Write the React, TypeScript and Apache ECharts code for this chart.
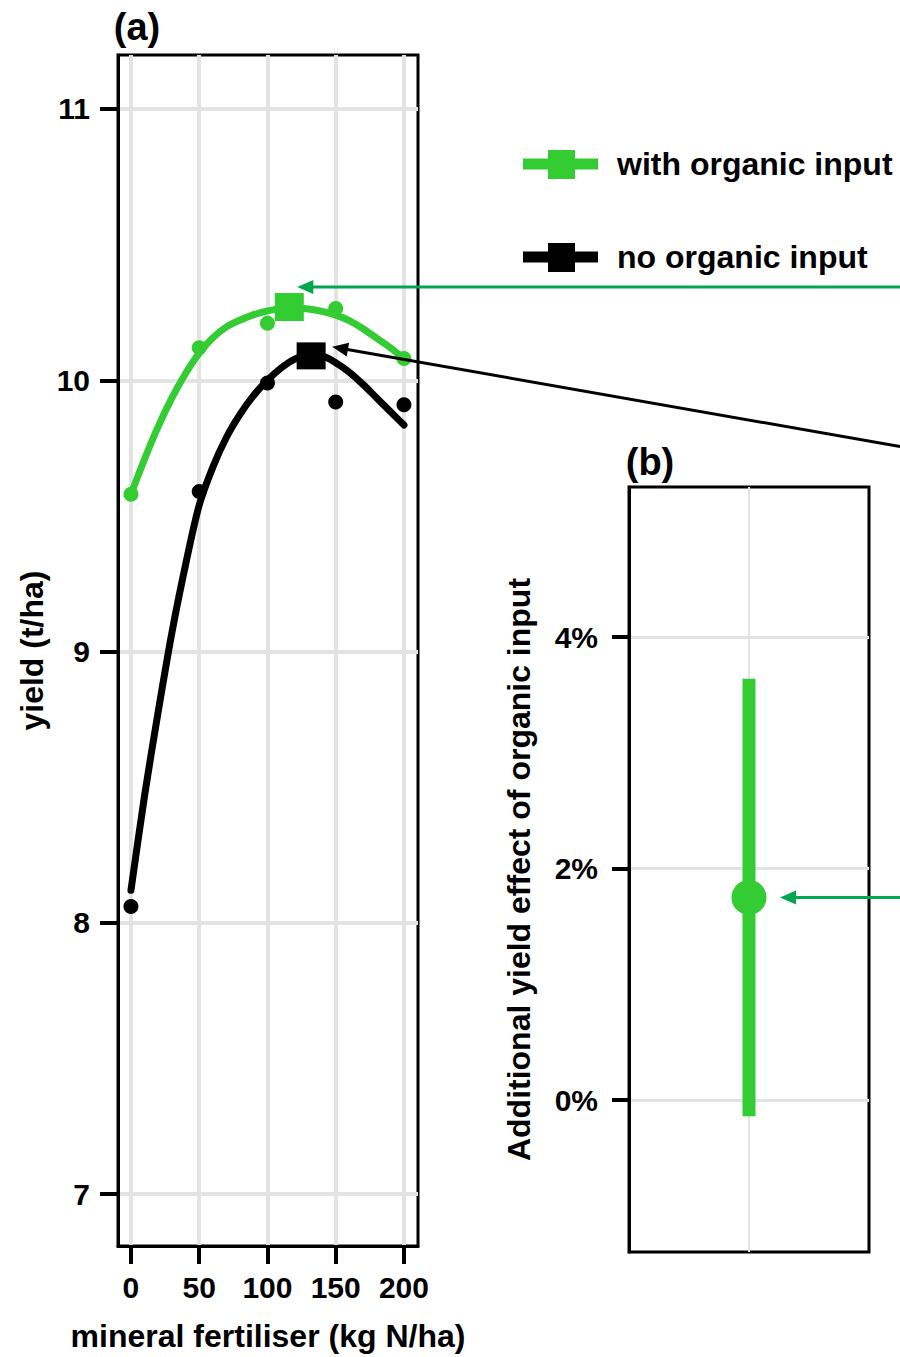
import React, { useEffect, useRef } from "react";
import * as echarts from "echarts";

const GREEN = "#33CC33";
const ARROW_GREEN = "#00A650";
const FONT = "'Liberation Sans', Arial, sans-serif";

// axis ticks
const fertiliserTicks = [0, 50, 100, 150, 200];
const yieldTicks = [7, 8, 9, 10, 11];
const effectTicks = [0, 2, 4];

// observed means (panel a)
const obsN = [0, 50, 100, 150, 200];
const withOrganicObs = [9.58, 10.12, 10.21, 10.265, 10.08];
const noOrganicObs = [8.06, 9.59, 9.99, 9.92, 9.91];

// fitted response curves (every 10 kg N/ha)
const fitN = [0, 10, 20, 30, 40, 50, 60, 70, 80, 90, 100, 110, 120, 130, 140, 150, 160, 170, 180, 190, 200];
const withFitYield = [
  9.58, 9.71, 9.83, 9.935, 10.025, 10.1, 10.157, 10.197, 10.222, 10.242, 10.256,
  10.264, 10.266, 10.263, 10.254, 10.24, 10.22, 10.19, 10.155, 10.12, 10.08,
];
const noFitYield = [
  8.12, 8.47, 8.78, 9.07, 9.32, 9.54, 9.68, 9.79, 9.875, 9.945, 10.0,
  10.045, 10.078, 10.093, 10.09, 10.065, 10.03, 9.985, 9.935, 9.885, 9.835,
];

// economic optimum points
const withOptimum = [116, 10.27];
const noOptimum = [132, 10.09];

// panel b: additional yield effect (%)
const effectMean = 1.75;
const effectLow = -0.14;
const effectHigh = 3.64;

const legendItems = [
  { name: "with organic input", color: GREEN },
  { name: "no organic input", color: "#000000" },
];

const zip = (a: number[], b: number[]) => a.map((v, i) => [v, b[i]]);

function arrow(tip: number[], from: number[], color: string) {
  const dx = from[0] - tip[0];
  const dy = from[1] - tip[1];
  const len = Math.sqrt(dx * dx + dy * dy);
  const ux = dx / len;
  const uy = dy / len;
  const nx = -uy;
  const ny = ux;
  const L = 16;
  const W = 7;
  return [
    {
      type: "line",
      shape: { x1: tip[0] + ux * (L - 2), y1: tip[1] + uy * (L - 2), x2: from[0], y2: from[1] },
      style: { stroke: color, lineWidth: 3 },
      z: 100,
    },
    {
      type: "polygon",
      shape: {
        points: [
          [tip[0], tip[1]],
          [tip[0] + ux * L + nx * W, tip[1] + uy * L + ny * W],
          [tip[0] + ux * L - nx * W, tip[1] + uy * L - ny * W],
        ],
      },
      style: { fill: color },
      z: 100,
    },
  ];
}

export default function App() {
  const ref = useRef<HTMLDivElement>(null);
  useEffect(() => {
    if (!ref.current) return;
    const chart = echarts.init(ref.current, null, { renderer: "svg" });
    const tickLabel = { fontSize: 30, fontWeight: "bold", color: "#000", fontFamily: FONT };
    const nameStyle = { fontSize: 32, fontWeight: "bold", color: "#000", fontFamily: FONT };
    const option: any = {
      animation: false,
      backgroundColor: "#ffffff",
      grid: [
        { left: 118, top: 55, width: 300, height: 1194, show: true, borderColor: "#000", borderWidth: 3, backgroundColor: "transparent" },
        { left: 629, top: 487, width: 240, height: 765, show: true, borderColor: "#000", borderWidth: 3, backgroundColor: "transparent" },
      ],
      xAxis: [
        {
          type: "value",
          gridIndex: 0,
          min: -9.5,
          max: 210.3,
          axisLine: { show: true, onZero: false, lineStyle: { color: "#000", width: 3 } },
          axisTick: { show: true, length: 18, customValues: fertiliserTicks, lineStyle: { color: "#000", width: 4 } },
          axisLabel: { ...tickLabel, customValues: fertiliserTicks, margin: 26 },
          splitLine: { show: true, lineStyle: { color: "#e3e3e3", width: 4 } },
          name: "mineral fertiliser (kg N/ha)",
          nameLocation: "middle",
          nameGap: 74,
          nameTextStyle: nameStyle,
        },
        {
          type: "value",
          gridIndex: 1,
          min: -1,
          max: 1,
          axisLine: { show: false },
          axisTick: { show: false, customValues: [0] },
          axisLabel: { show: false, customValues: [0] },
          splitLine: { show: true, lineStyle: { color: "#e3e3e3", width: 2 } },
        },
      ],
      yAxis: [
        {
          type: "value",
          gridIndex: 0,
          min: 6.809,
          max: 11.199,
          axisLine: { show: true, onZero: false, lineStyle: { color: "#000", width: 3 } },
          axisTick: { show: true, length: 18, customValues: yieldTicks, lineStyle: { color: "#000", width: 4 } },
          axisLabel: { ...tickLabel, customValues: yieldTicks, margin: 28 },
          splitLine: { show: true, lineStyle: { color: "#e3e3e3", width: 4 } },
          name: "yield (t/ha)",
          nameLocation: "middle",
          nameRotate: 90,
          nameGap: 70,
          nameTextStyle: nameStyle,
        },
        {
          type: "value",
          gridIndex: 1,
          min: -1.313,
          max: 5.296,
          axisLine: { show: true, onZero: false, lineStyle: { color: "#000", width: 3 } },
          axisTick: { show: true, length: 17, customValues: effectTicks, lineStyle: { color: "#000", width: 4 } },
          axisLabel: { ...tickLabel, customValues: effectTicks, margin: 31, formatter: "{value}%" },
          splitLine: { show: true, lineStyle: { color: "#e3e3e3", width: 3 } },
          name: "Additional yield effect of organic input",
          nameLocation: "middle",
          nameRotate: 90,
          nameGap: 94,
          nameTextStyle: nameStyle,
        },
      ],
      series: [
        {
          name: "with organic input fit",
          type: "line",
          xAxisIndex: 0,
          yAxisIndex: 0,
          data: zip(fitN, withFitYield),
          smooth: 0.3,
          symbol: "none",
          lineStyle: { color: GREEN, width: 7, cap: "round", join: "round", opacity: 1 },
          z: 3,
        },
        {
          name: "no organic input fit",
          type: "line",
          xAxisIndex: 0,
          yAxisIndex: 0,
          data: zip(fitN, noFitYield),
          smooth: 0.3,
          symbol: "none",
          lineStyle: { color: "#000", width: 7, cap: "round", join: "round", opacity: 1 },
          z: 3,
        },
        {
          name: "with organic input",
          type: "scatter",
          xAxisIndex: 0,
          yAxisIndex: 0,
          data: zip(obsN, withOrganicObs),
          symbol: "circle",
          symbolSize: 15,
          itemStyle: { color: GREEN, opacity: 1 },
          z: 4,
        },
        {
          name: "no organic input",
          type: "scatter",
          xAxisIndex: 0,
          yAxisIndex: 0,
          data: zip(obsN, noOrganicObs),
          symbol: "circle",
          symbolSize: 15,
          itemStyle: { color: "#000", opacity: 1 },
          z: 4,
        },
        {
          name: "with organic optimum",
          type: "scatter",
          xAxisIndex: 0,
          yAxisIndex: 0,
          data: [withOptimum],
          symbol: "rect",
          symbolSize: [29, 28],
          itemStyle: { color: GREEN, opacity: 1 },
          z: 5,
        },
        {
          name: "no organic optimum",
          type: "scatter",
          xAxisIndex: 0,
          yAxisIndex: 0,
          data: [noOptimum],
          symbol: "rect",
          symbolSize: [29, 27],
          itemStyle: { color: "#000", opacity: 1 },
          z: 5,
        },
        {
          name: "effect interval",
          type: "line",
          xAxisIndex: 1,
          yAxisIndex: 1,
          data: [[0, effectLow], [0, effectHigh]],
          symbol: "none",
          lineStyle: { color: GREEN, width: 13, cap: "butt", opacity: 1 },
          z: 3,
        },
        {
          name: "effect mean",
          type: "scatter",
          xAxisIndex: 1,
          yAxisIndex: 1,
          data: [[0, effectMean]],
          symbol: "circle",
          symbolSize: 35,
          itemStyle: { color: GREEN, opacity: 1 },
          z: 4,
        },
      ],
    };
    chart.setOption(option);

    const gPix = chart.convertToPixel({ gridIndex: 0 }, withOptimum) as number[];
    const bPix = chart.convertToPixel({ gridIndex: 0 }, noOptimum) as number[];
    const ePix = chart.convertToPixel({ gridIndex: 1 }, [0, effectMean]) as number[];

    const gTip = [gPix[0] + 8, gPix[1] - 20];
    const bTip = [bPix[0] + 21, bPix[1] - 9];
    const eTip = [ePix[0] + 31, ePix[1]];

    const legendGraphics: any[] = [];
    legendItems.forEach((it, i) => {
      const y = 164 + i * 93;
      legendGraphics.push(
        { type: "line", shape: { x1: 523, y1: y, x2: 598, y2: y }, style: { stroke: it.color, lineWidth: 11 } },
        { type: "rect", shape: { x: 548, y: y - 14, width: 27, height: 29 }, style: { fill: it.color } },
        {
          type: "text",
          x: 617,
          y: y,
          style: { text: it.name, fontSize: 32, fontWeight: "bold", fill: "#000", fontFamily: FONT, textVerticalAlign: "middle", textAlign: "left" },
        }
      );
    });

    chart.setOption({
      graphic: [
        {
          type: "text",
          x: 137,
          y: 27,
          style: { text: "(a)", fontSize: 38, fontWeight: "bold", fill: "#000", fontFamily: FONT, textAlign: "center", textVerticalAlign: "middle" },
        },
        {
          type: "text",
          x: 650,
          y: 462,
          style: { text: "(b)", fontSize: 38, fontWeight: "bold", fill: "#000", fontFamily: FONT, textAlign: "center", textVerticalAlign: "middle" },
        },
        ...legendGraphics,
        ...arrow(gTip, [900, gTip[1]], ARROW_GREEN),
        ...arrow(bTip, [900, bTip[1] + (900 - bTip[0]) * 0.1755], "#000"),
        ...arrow(eTip, [900, eTip[1]], ARROW_GREEN),
      ],
    });

    return () => chart.dispose();
  }, []);
  return <div ref={ref} style={{ position: "absolute", left: 0, top: 0, width: 900, height: 1357, background: "#fff" }} />;
}
